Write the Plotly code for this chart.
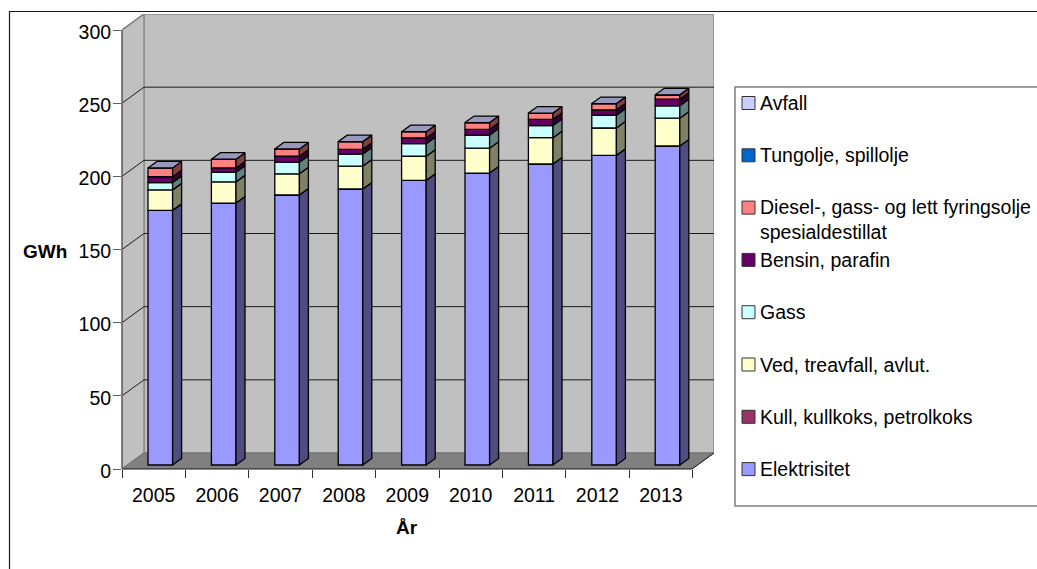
import plotly.graph_objects as go

# Annual energy use by carrier, GWh
years = ["2005", "2006", "2007", "2008", "2009", "2010", "2011", "2012", "2013"]
elektrisitet = [174, 179, 184.5, 188.6, 194.5, 199.5, 205.7, 211.6, 218]
kull = [0, 0, 0, 0, 0, 0, 0, 0, 0]
ved = [14, 14.5, 14.5, 15.7, 16.5, 17, 18, 18.7, 19]
gass = [5, 6.5, 8, 8.2, 8.6, 9, 8.3, 8.7, 8.5]
bensin = [4, 3, 4, 3.2, 3.9, 3.9, 4.2, 3.6, 4.5]
diesel = [6, 6, 5, 5.3, 4.3, 4.6, 4.3, 4.4, 3]
tungolje = [0, 0, 0, 0, 0, 0, 0, 0, 0]
avfall = [0, 0, 0, 0, 0, 0, 0, 0, 0]

names = ["Elektrisitet", "Kull, kullkoks, petrolkoks", "Ved, treavfall, avlut.", "Gass",
         "Bensin, parafin", "Diesel-, gass- og lett fyringsolje<br>spesialdestillat",
         "Tungolje, spillolje", "Avfall"]
values = [elektrisitet, kull, ved, gass, bensin, diesel, tungolje, avfall]
front_colors = ["#9999ff", "#993366", "#ffffcc", "#ccffff", "#660066", "#ff8080", "#0066cc", "#ccccff"]
side_colors = ["#4d4d80", "#4d1a33", "#808066", "#668080", "#330033", "#804040", "#003366", "#666680"]
top_color = "#9999bf"

# Page layout of the plot area, in pixels
W, H = 1037, 569
LEFT, RIGHT, TOP, BOTTOM = 122, 714, 14, 469
PX_PER_CAT = 63.4
PX_PER_GWH = 1.4633
XMIN = -0.5
XMAX = XMIN + (RIGHT - LEFT) / PX_PER_CAT
YMAX = (BOTTOM - TOP) / PX_PER_GWH

# Oblique projection of the chart box and of each column
WALL_DX = 22 / PX_PER_CAT
WALL_DY = 16 / PX_PER_GWH
BAR_W = 24.6 / PX_PER_CAT
BAR_OFFSET = -5.7 / PX_PER_CAT
BAR_LIFT = 4 / PX_PER_GWH
BAR_DX = 9 / PX_PER_CAT
BAR_DY = 6.5 / PX_PER_GWH

FONT = "Liberation Sans"
LABEL_SIZE = 19.5
EDGE = 1.3


def px_x(px):
    return (px - LEFT) / (RIGHT - LEFT)


def px_y(py):
    return (BOTTOM - py) / (BOTTOM - TOP)


def data_x(x):
    return (x - XMIN) / (XMAX - XMIN)


def data_y(y):
    return y / YMAX


def poly(points):
    return "M" + " L".join(f"{x},{y}" for x, y in points) + " Z"


fig = go.Figure()
shapes = []

# Chart box: floor, side wall and back wall
xr = XMAX
xl = XMIN + WALL_DX
xf = XMAX - WALL_DX
shapes.append(dict(type="path", path=poly([(xl, WALL_DY), (xr, WALL_DY), (xr, YMAX), (xl, YMAX)]),
                   fillcolor="#c0c0c0", line=dict(color="#8c8c8c", width=1.5), layer="below"))
shapes.append(dict(type="path", path=poly([(XMIN, 0), (xl, WALL_DY), (xl, YMAX), (XMIN, 300)]),
                   fillcolor="#c0c0c0", line=dict(color="#8c8c8c", width=1.5), layer="below"))
shapes.append(dict(type="path", path=poly([(XMIN, 0), (xl, WALL_DY), (xr, WALL_DY), (xf, 0)]),
                   fillcolor="#808080", line=dict(color="#707070", width=1), layer="below"))

# Gridlines run along the side wall and across the back wall
for v in [50, 100, 150, 200, 250]:
    shapes.append(dict(type="path", path=f"M{XMIN},{v} L{xl},{v + WALL_DY} L{xr},{v + WALL_DY}",
                       line=dict(color="#1a1a1a", width=1), layer="below"))
shapes.append(dict(type="path", path=f"M{XMIN},300 L{xl},{300 + WALL_DY}",
                   line=dict(color="#808080", width=1.2), layer="below"))
shapes.append(dict(type="path", path=f"M{xf},0 L{xr},{WALL_DY}",
                   line=dict(color="#1a1a1a", width=1), layer="below"))

# Front axis lines
shapes.append(dict(type="line", xref="paper", yref="paper", x0=data_x(XMIN), x1=data_x(XMIN),
                   y0=data_y(0), y1=data_y(300), line=dict(color="#606060", width=1.5), layer="above"))
shapes.append(dict(type="line", xref="paper", yref="paper", x0=data_x(XMIN), x1=data_x(8.5),
                   y0=data_y(0), y1=data_y(0), line=dict(color="#1a1a1a", width=1.2), layer="above"))

# Stacked columns with their shaded side faces and a top cap
positions = list(range(len(years)))
cum = [0.0] * len(years)
for name, vals, color, side in zip(names, values, front_colors, side_colors):
    fig.add_trace(go.Bar(
        x=positions, y=vals, base=[c + BAR_LIFT for c in cum],
        width=BAR_W, offset=BAR_OFFSET, name=name.replace("<br>", " "),
        marker=dict(color=color, line=dict(color="#000000", width=EDGE)),
        showlegend=False, hoverinfo="name+y",
    ))
    sx, sy = [], []
    for i, p in enumerate(positions):
        x1 = p + BAR_OFFSET + BAR_W
        y0 = cum[i] + BAR_LIFT
        y1 = y0 + vals[i]
        sx += [x1, x1 + BAR_DX, x1 + BAR_DX, x1, x1, None]
        sy += [y0, y0 + BAR_DY, y1 + BAR_DY, y1, y0, None]
    if any(vals):
        fig.add_trace(go.Scatter(x=sx, y=sy, mode="lines", fill="toself", fillcolor=side,
                                 line=dict(color="#000000", width=EDGE),
                                 showlegend=False, hoverinfo="skip"))
    cum = [c + v for c, v in zip(cum, vals)]

tx, ty = [], []
for i, p in enumerate(positions):
    x0 = p + BAR_OFFSET
    y0 = cum[i] + BAR_LIFT
    tx += [x0, x0 + BAR_W, x0 + BAR_W + BAR_DX, x0 + BAR_DX, x0, None]
    ty += [y0, y0, y0 + BAR_DY, y0 + BAR_DY, y0, None]
fig.add_trace(go.Scatter(x=tx, y=ty, mode="lines", fill="toself", fillcolor=top_color,
                         line=dict(color="#000000", width=EDGE),
                         showlegend=False, hoverinfo="skip"))

annotations = [
    dict(text="<b>GWh</b>", x=px_x(45), y=px_y(252)),
    dict(text="<b>År</b>", x=px_x(407), y=px_y(527.5)),
]
for a in annotations:
    a.update(xref="paper", yref="paper", showarrow=False, xanchor="center", yanchor="middle",
             font=dict(family=FONT, size=LABEL_SIZE - 0.5, color="#000000"))

# Outer chart frame and legend box continue past the page edge
shapes.append(dict(type="rect", xref="paper", yref="paper", x0=px_x(9.5), x1=px_x(W + 20),
                   y0=px_y(11.5), y1=px_y(H + 20), line=dict(color="#1a1a1a", width=1.2), layer="below"))
shapes.append(dict(type="rect", xref="paper", yref="paper", x0=px_x(735), x1=px_x(W + 20),
                   y0=px_y(87), y1=px_y(506), line=dict(color="#808080", width=1.5),
                   fillcolor="#ffffff", layer="below"))

# Legend entries, listed from the top series down
LEGEND_TOP = 103
LEGEND_STEP = 52.3
SWATCH = 13
for row, (name, color) in enumerate(zip(reversed(names), reversed(front_colors))):
    cy = LEGEND_TOP + row * LEGEND_STEP
    shapes.append(dict(type="rect", xref="paper", yref="paper",
                       x0=px_x(742), x1=px_x(742 + SWATCH),
                       y0=px_y(cy - SWATCH / 2), y1=px_y(cy + SWATCH / 2),
                       fillcolor=color, line=dict(color="#333333", width=1), layer="above"))
    two_lines = "<br>" in name
    annotations.append(dict(
        text=name, xref="paper", yref="paper", showarrow=False, align="left",
        x=px_x(757.5), y=px_y(cy - 14) if two_lines else px_y(cy),
        xanchor="left", yanchor="top" if two_lines else "middle",
        font=dict(family=FONT, size=LABEL_SIZE, color="#000000"),
    ))

fig.update_layout(
    width=W, height=H,
    margin=dict(l=LEFT, r=W - RIGHT, t=TOP, b=H - BOTTOM, pad=0),
    paper_bgcolor="#ffffff", plot_bgcolor="rgba(0,0,0,0)",
    barmode="overlay", showlegend=False,
    shapes=shapes, annotations=annotations,
    font=dict(family=FONT, size=LABEL_SIZE, color="#000000"),
    xaxis=dict(range=[XMIN, XMAX], tickmode="array", tickvals=positions, ticktext=years,
               ticks="", showgrid=False, zeroline=False, showline=False, ticklabelstandoff=12,
               minor=dict(tickmode="array", tickvals=[p - 0.5 for p in positions] + [8.5],
                          ticks="outside", ticklen=8, tickcolor="#333333", tickwidth=1, showgrid=False)),
    yaxis=dict(range=[0, YMAX], tickmode="array", tickvals=[0, 50, 100, 150, 200, 250, 300],
               ticks="outside", ticklen=8, tickcolor="#606060", tickwidth=1, showgrid=False,
               zeroline=False, showline=False, ticklabelstandoff=-2, ticklabelshift=2),
)

fig.write_html("out.html", config={"displayModeBar": False})
